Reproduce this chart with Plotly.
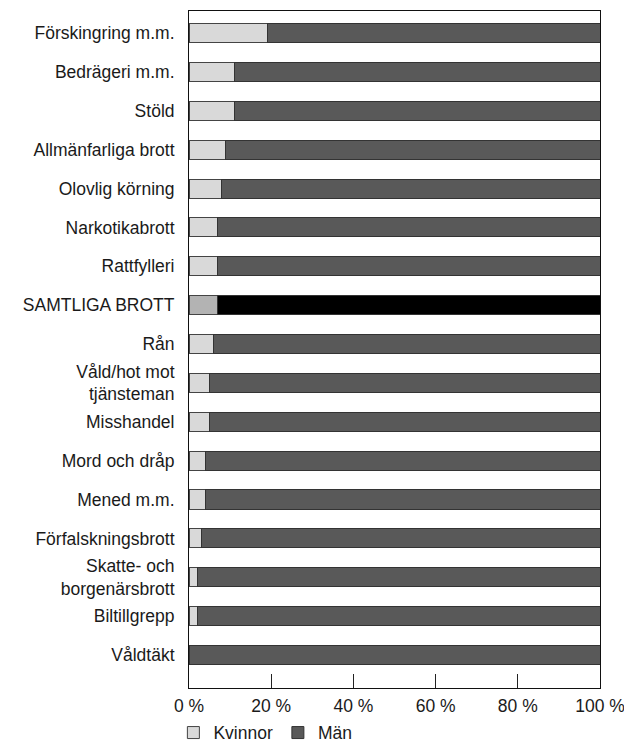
import plotly.graph_objects as go

# brottskategorier uppifrån och ned
brott = ["Förskingring m.m.", "Bedrägeri m.m.", "Stöld", "Allmänfarliga brott",
         "Olovlig körning", "Narkotikabrott", "Rattfylleri", "SAMTLIGA BROTT",
         "Rån", "Våld/hot mot<br>tjänsteman", "Misshandel", "Mord och dråp",
         "Mened m.m.", "Förfalskningsbrott", "Skatte- och<br>borgenärsbrott",
         "Biltillgrepp", "Våldtäkt"]
kvinnor = [19, 11, 11, 9, 8, 7, 7, 7, 6, 5, 5, 4, 4, 3, 2, 2, 0]
man = [81, 89, 89, 91, 92, 93, 93, 93, 94, 95, 95, 96, 96, 97, 98, 98, 100]
tick_vals = [0, 20, 40, 60, 80, 100]
tick_text = ["0 %", "20 %", "40 %", "60 %", "80 %", "100 %"]

# samtliga brott markeras med mörkare färger
kv_farg = ["#b3b3b3" if b == "SAMTLIGA BROTT" else "#d9d9d9" for b in brott]
man_farg = ["#000000" if b == "SAMTLIGA BROTT" else "#595959" for b in brott]

font = "Liberation Sans, Arial, sans-serif"

fig = go.Figure()
fig.add_trace(go.Bar(y=brott, x=kvinnor, orientation="h", name="Kvinnor",
                     marker=dict(color=kv_farg, line=dict(color="#444", width=1)),
                     width=0.49))
fig.add_trace(go.Bar(y=brott, x=man, orientation="h", name="Män",
                     marker=dict(color=man_farg, line=dict(color="#333", width=1)),
                     width=0.49))

# sidan har 8 px marginal i body, därför 624x735
fig.update_layout(
    barmode="stack",
    width=624, height=735,
    margin=dict(l=181, r=32, t=3, b=55, autoexpand=False),
    paper_bgcolor="white", plot_bgcolor="white",
    font=dict(family=font, size=17.5, color="#1a1a1a"),
    showlegend=True,
    legend=dict(orientation="h", x=-0.038, y=-0.066, xanchor="left", yanchor="middle",
                font=dict(size=17.5), itemwidth=30, traceorder="normal",
                bgcolor="rgba(0,0,0,0)"),
    xaxis=dict(range=[0, 100], tickvals=tick_vals, ticktext=tick_text,
               ticks="inside", ticklen=14, tickcolor="#222", showgrid=False,
               showline=True, linecolor="#111", linewidth=1, mirror=True,
               zeroline=False, automargin=False, ticklabelstandoff=2),
    yaxis=dict(type="category", categoryorder="array", categoryarray=brott,
               range=[16.85, -0.57], ticks="", showgrid=False,
               showline=True, linecolor="#111", linewidth=1, mirror=True,
               ticklabelstandoff=10, automargin=False),
)

fig.write_html("out.html")
